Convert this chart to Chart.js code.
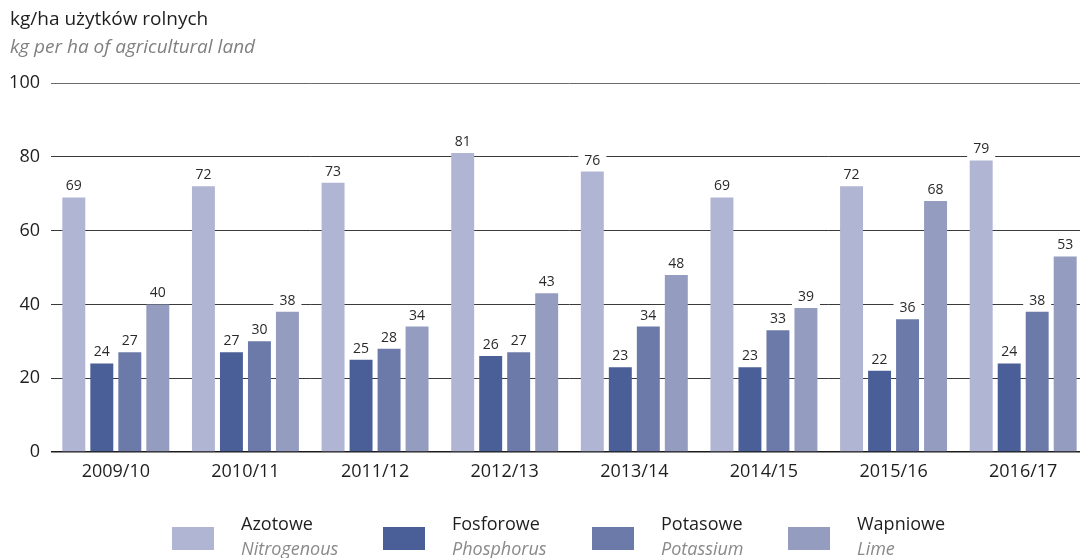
<!DOCTYPE html>
<html>
<head>
<meta charset="utf-8">
<script src="https://cdn.jsdelivr.net/npm/chart.js@4/dist/chart.umd.min.js"></script>
<style>
  html, body { margin: 0; padding: 0; background: #fff; }
  #wrap { position: relative; width: 1080px; height: 558px; overflow: hidden; font-family: "Open Sans", "Noto Sans", sans-serif; }
  #c { position: absolute; left: 0; top: 0; }
  .t1 { position: absolute; left: 10px; top: 5px; font-size: 19px; color: #1e1e1e; white-space: nowrap; }
  .t2 { position: absolute; left: 10px; top: 33px; font-size: 19px; color: #808080; font-style: italic; white-space: nowrap; }
  .lg { position: absolute; top: 0; left: 0; }
  .lg .box { position: absolute; width: 42px; height: 23px; top: 527px; }
  .lg .a { position: absolute; top: 511px; font-size: 18px; color: #1e1e1e; white-space: nowrap; }
  .lg .b { position: absolute; top: 536px; font-size: 18px; color: #8a8a8a; font-style: italic; white-space: nowrap; }
</style>
</head>
<body>
<div id="wrap">
  <canvas id="c" width="1090" height="558"></canvas>
  <div class="t1">kg/ha użytków rolnych</div>
  <div class="t2">kg per ha of agricultural land</div>
  <div class="lg" id="legend"></div>
</div>
<script>
const categories = ["2009/10","2010/11","2011/12","2012/13","2013/14","2014/15","2015/16","2016/17"];
const seriesNames = ["Azotowe","Fosforowe","Potasowe","Wapniowe"];
const seriesNamesEn = ["Nitrogenous","Phosphorus","Potassium","Lime"];
const azotowe   = [69, 72, 73, 81, 76, 69, 72, 79];
const fosforowe = [24, 27, 25, 26, 23, 23, 22, 24];
const potasowe  = [27, 30, 28, 27, 34, 33, 36, 38];
const wapniowe  = [40, 38, 34, 43, 48, 39, 68, 53];
const yTicks = [0, 20, 40, 60, 80, 100];
const colors = ["#b0b5d3", "#4a5f97", "#6c7aa9", "#949dc0"];

const seriesData = [azotowe, fosforowe, potasowe, wapniowe];
const FONT = '"Open Sans", "Noto Sans", sans-serif';

// legend (HTML, real text)
const legendX = [172, 383, 592, 788];
const lg = document.getElementById('legend');
seriesNames.forEach((n, i) => {
  const x = legendX[i];
  lg.insertAdjacentHTML('beforeend',
    `<div class="box" style="left:${x}px;background:${colors[i]}"></div>` +
    `<div class="a" style="left:${x + 69}px">${n}</div>` +
    `<div class="b" style="left:${x + 69}px">${seriesNamesEn[i]}</div>`);
});

const labelPlugin = {
  id: 'valueLabels',
  afterDatasetsDraw(chart) {
    const ctx = chart.ctx;
    ctx.save();
    ctx.font = '14px ' + FONT;
    ctx.textAlign = 'center';
    ctx.textBaseline = 'middle';
    chart.data.datasets.forEach((ds, di) => {
      const meta = chart.getDatasetMeta(di);
      meta.data.forEach((bar, i) => {
        const txt = String(ds.data[i]);
        const w = ctx.measureText(txt).width + 12;
        const cy = bar.y - 12;
        ctx.fillStyle = '#ffffff';
        ctx.fillRect(bar.x - w / 2, cy - 9, w, 18);
        ctx.fillStyle = '#2a2a2a';
        ctx.fillText(txt, bar.x, cy + 1);
      });
    });
    ctx.restore();
  }
};

new Chart(document.getElementById('c'), {
  type: 'bar',
  data: {
    labels: categories,
    datasets: seriesNames.map((n, i) => ({
      label: n,
      data: seriesData[i],
      backgroundColor: colors[i],
      borderWidth: 0,
      categoryPercentage: 0.864,
      barPercentage: 0.82
    }))
  },
  options: {
    responsive: false,
    animation: false,
    layout: { padding: { top: 83, right: 2, left: 0, bottom: 0 } },
    plugins: { legend: { display: false }, tooltip: { enabled: false }, title: { display: false } },
    scales: {
      x: {
        grid: { display: false, drawTicks: false },
        border: { display: false },
        ticks: { color: '#1e1e1e', font: { family: FONT, size: 18 }, padding: 9, maxRotation: 0 },
        afterFit(s) { s.height = 106; }
      },
      y: {
        min: 0, max: 100,
        afterBuildTicks(s) { s.ticks = yTicks.map(v => ({ value: v })); },
        grid: {
          drawTicks: false,
          color: c => c.tick.value === 0 ? '#1a1a1a' : (c.tick.value === 100 ? '#6a6a6a' : '#3a3a3a'),
          lineWidth: c => c.tick.value === 0 ? 1.6 : 1
        },
        border: { display: false },
        ticks: { color: '#1e1e1e', font: { family: FONT, size: 18 }, padding: 11 },
        afterFit(s) { s.width = 51; }
      }
    }
  },
  plugins: [labelPlugin]
});
</script>
</body>
</html>
